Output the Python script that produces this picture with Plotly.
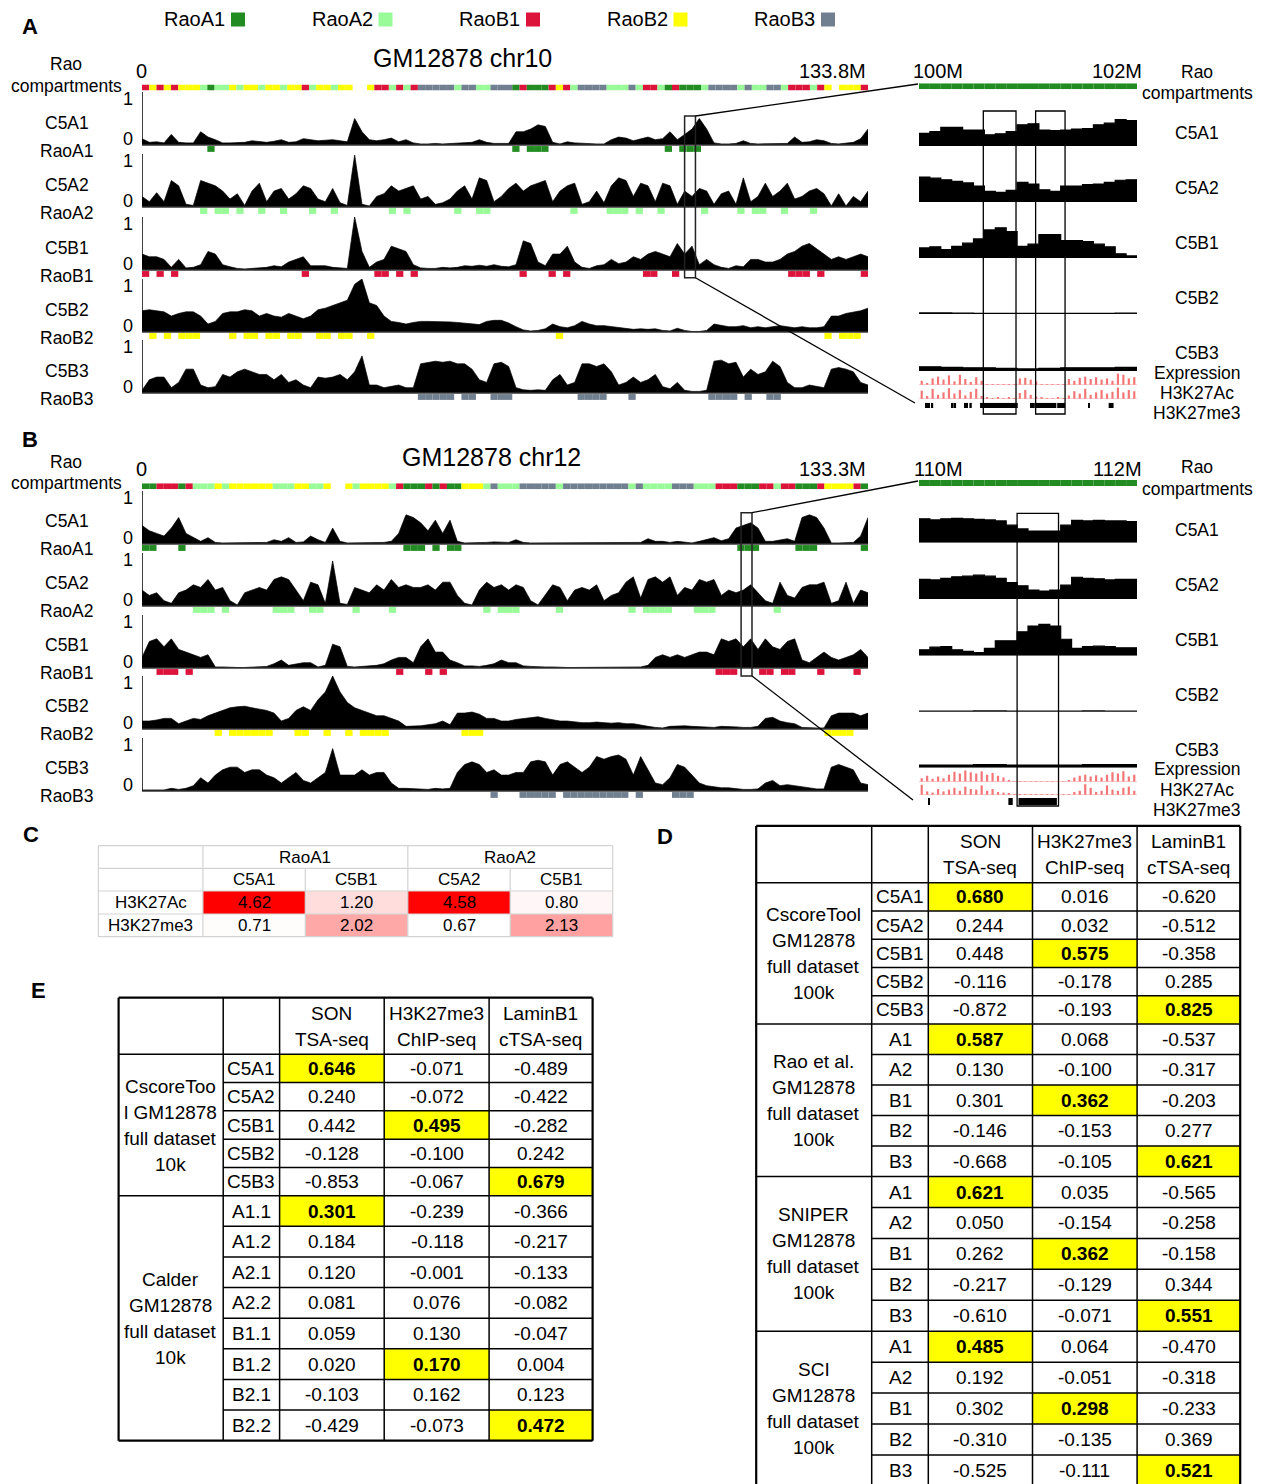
import numpy as np
import plotly.graph_objects as go

W, H = 1262, 1484
OFF = 8                      # page body margin that the browser adds around the figure
FW, FH = W - OFF, H - OFF    # figure size so that it fits the window exactly
FONT = "Liberation Sans, Arial, Helvetica, sans-serif"

# ======================= DATA =======================
comp_names = ["RaoA1", "RaoA2", "RaoB1", "RaoB2", "RaoB3"]
comp_codes = ["G", "L", "R", "Y", "S"]
comp_colors = ["#228B22", "#98FB98", "#DC143C", "#FFFF00", "#708090"]
track_names = ["C5A1", "C5A2", "C5B1", "C5B2", "C5B3"]
mark_names = ["Expression", "H3K27Ac", "H3K27me3"]

# ---- chr10 ----
chr10_title = "GM12878 chr10"
chr10_len = 133.8
chr10_end_label = "133.8M"
chr10_comp = ("RYRYRYYYLG" "LLYLYYLYYL" "YYRLYYLYY." ".YRRLRLRSS" "SSSLSSLLSS"
              "SGRGGGRYRL" "SSSSLLLSLR" "RLGRGGGLSS" "SSLSLLSSLR" "RRLRY.YYYR")
chr10_C5A1 = [0.12, 0.05, 0.06, 0.04, 0.2, 0.05, 0.04, 0.04, 0.25, 0.15,
              0.1, 0.04, 0.04, 0.04, 0.05, 0.08, 0.07, 0.05, 0.07, 0.1,
              0.05, 0.06, 0.12, 0.1, 0.08, 0.09, 0.1, 0.08, 0.06, 0.5,
              0.25, 0.1, 0.08, 0.1, 0.13, 0.06, 0.1, 0.04, 0.02, 0.02,
              0.03, 0.02, 0.03, 0.03, 0.04, 0.05, 0.1, 0.05, 0.03, 0.03,
              0.03, 0.25, 0.25, 0.3, 0.38, 0.35, 0.05, 0.02, 0.06, 0.04,
              0.03, 0.02, 0.02, 0.02, 0.1, 0.15, 0.13, 0.08, 0.12, 0.15,
              0.1, 0.12, 0.25, 0.1, 0.2, 0.3, 0.5, 0.3, 0.04, 0.02,
              0.02, 0.03, 0.08, 0.03, 0.02, 0.02, 0.02, 0.02, 0.03, 0.15,
              0.05, 0.06, 0.1, 0.08, 0.03, 0.02, 0.03, 0.05, 0.12, 0.3]
chr10_C5A2 = [0.2, 0.1, 0.27, 0.1, 0.5, 0.4, 0.05, 0.03, 0.5, 0.45,
              0.4, 0.3, 0.15, 0.25, 0.03, 0.3, 0.45, 0.1, 0.3, 0.35,
              0.15, 0.25, 0.4, 0.35, 0.15, 0.1, 0.35, 0.08, 0.03, 0.98,
              0.05, 0.02, 0.2, 0.25, 0.4, 0.3, 0.35, 0.4, 0.15, 0.2,
              0.05, 0.08, 0.15, 0.3, 0.4, 0.15, 0.55, 0.5, 0.1, 0.2,
              0.35, 0.45, 0.3, 0.4, 0.45, 0.5, 0.1, 0.3, 0.4, 0.45,
              0.05, 0.1, 0.3, 0.08, 0.4, 0.55, 0.5, 0.2, 0.45, 0.4,
              0.1, 0.45, 0.4, 0.05, 0.3, 0.2, 0.35, 0.3, 0.05, 0.25,
              0.3, 0.05, 0.55, 0.1, 0.2, 0.45, 0.2, 0.3, 0.45, 0.15,
              0.2, 0.3, 0.35, 0.25, 0.02, 0.25, 0.02, 0.2, 0.1, 0.3]
chr10_C5B1 = [0.3, 0.25, 0.25, 0.2, 0.05, 0.2, 0.04, 0.05, 0.1, 0.35,
              0.3, 0.1, 0.06, 0.03, 0.02, 0.03, 0.04, 0.05, 0.08, 0.06,
              0.15, 0.2, 0.25, 0.08, 0.08, 0.08, 0.05, 0.04, 0.03, 1.0,
              0.35, 0.05, 0.15, 0.2, 0.45, 0.4, 0.35, 0.1, 0.04, 0.03,
              0.03, 0.05, 0.04, 0.05, 0.08, 0.07, 0.09, 0.07, 0.1, 0.07,
              0.06, 0.1, 0.55, 0.5, 0.15, 0.08, 0.3, 0.3, 0.45, 0.15,
              0.05, 0.03, 0.08, 0.1, 0.2, 0.12, 0.15, 0.25, 0.2, 0.3,
              0.35, 0.3, 0.25, 0.5, 0.3, 0.45, 0.1, 0.2, 0.1, 0.05,
              0.03, 0.08, 0.06, 0.2, 0.2, 0.15, 0.15, 0.2, 0.3, 0.35,
              0.45, 0.5, 0.4, 0.3, 0.2, 0.25, 0.2, 0.25, 0.3, 0.25]
chr10_C5B2 = [0.4, 0.42, 0.4, 0.38, 0.3, 0.35, 0.38, 0.38, 0.3, 0.15,
              0.2, 0.35, 0.38, 0.38, 0.42, 0.4, 0.3, 0.35, 0.3, 0.28,
              0.35, 0.3, 0.25, 0.3, 0.42, 0.45, 0.5, 0.55, 0.6, 0.9,
              1.0, 0.55, 0.5, 0.3, 0.2, 0.18, 0.15, 0.18, 0.2, 0.2,
              0.2, 0.2, 0.19, 0.18, 0.17, 0.15, 0.14, 0.2, 0.22, 0.22,
              0.17, 0.1, 0.04, 0.02, 0.03, 0.06, 0.15, 0.1, 0.08, 0.12,
              0.2, 0.15, 0.12, 0.12, 0.1, 0.08, 0.06, 0.05, 0.06, 0.05,
              0.06, 0.03, 0.02, 0.07, 0.03, 0.01, 0.01, 0.03, 0.15, 0.12,
              0.1, 0.1, 0.12, 0.08, 0.1, 0.08, 0.1, 0.12, 0.1, 0.08,
              0.1, 0.08, 0.08, 0.1, 0.3, 0.3, 0.35, 0.38, 0.4, 0.45]
chr10_C5B3 = [0.05, 0.25, 0.3, 0.3, 0.1, 0.2, 0.45, 0.45, 0.15, 0.1,
              0.12, 0.35, 0.3, 0.4, 0.45, 0.4, 0.35, 0.35, 0.25, 0.35,
              0.2, 0.25, 0.15, 0.1, 0.3, 0.28, 0.3, 0.35, 0.25, 0.4,
              0.7, 0.15, 0.15, 0.1, 0.12, 0.15, 0.1, 0.1, 0.55, 0.58,
              0.6, 0.58, 0.6, 0.55, 0.55, 0.45, 0.25, 0.2, 0.55, 0.58,
              0.5, 0.1, 0.06, 0.05, 0.06, 0.05, 0.25, 0.35, 0.15, 0.2,
              0.55, 0.55, 0.5, 0.55, 0.4, 0.15, 0.2, 0.3, 0.2, 0.25,
              0.35, 0.12, 0.08, 0.2, 0.05, 0.03, 0.03, 0.05, 0.6, 0.62,
              0.55, 0.58, 0.3, 0.45, 0.35, 0.4, 0.6, 0.5, 0.2, 0.1,
              0.1, 0.15, 0.12, 0.1, 0.45, 0.48, 0.45, 0.4, 0.2, 0.15]

chr10_zoom = (100, 102)
chr10_zoom_labels = ("100M", "102M")
chr10_zoom_comp = "GGGGGGGGGGGGGGGGGGGG"
chr10_zoom_C5A1 = [0.24, 0.27, 0.35, 0.35, 0.30, 0.30, 0.21, 0.23, 0.27, 0.40,
                   0.42, 0.30, 0.29, 0.30, 0.32, 0.33, 0.40, 0.43, 0.50, 0.48]
chr10_zoom_C5A2 = [0.47, 0.45, 0.42, 0.39, 0.36, 0.30, 0.20, 0.18, 0.22, 0.37,
                   0.34, 0.23, 0.20, 0.30, 0.30, 0.33, 0.34, 0.37, 0.41, 0.42]
chr10_zoom_C5B1 = [0.19, 0.21, 0.16, 0.22, 0.28, 0.36, 0.53, 0.57, 0.50, 0.22,
                   0.26, 0.44, 0.44, 0.33, 0.33, 0.31, 0.26, 0.21, 0.08, 0.04]
chr10_zoom_C5B2 = [0.02, 0.02, 0.02, 0.015, 0.015, 0.01, 0.01, 0.01, 0.01, 0.01,
                   0.01, 0.01, 0.01, 0.01, 0.01, 0.01, 0.01, 0.01, 0.015, 0.015]
chr10_zoom_C5B3 = [0.08, 0.08, 0.07, 0.07, 0.06, 0.06, 0.06, 0.05, 0.05, 0.04,
                   0.04, 0.05, 0.05, 0.06, 0.06, 0.06, 0.06, 0.06, 0.07, 0.07]
chr10_zoom_expr = [0.35, 0.15, 0.55, 0.7, 0.45, 0.8, 0.3, 0.85, 0.5, 0.25, 0.65, 0.35,
                   0.04, 0.04, 0.05, 0.04, 0.04, 0.05,
                   0.55, 0.6, 0.45, 0.3,
                   0.04, 0.05, 0.04, 0.04, 0.05,
                   0.5, 0.35, 0.6, 0.7, 0.5, 0.65, 0.45, 0.55, 0.35, 0.95, 0.85, 0.55, 0.65]
chr10_zoom_h3k27ac = [0.7, 0.25, 0.85, 0.35, 0.55, 0.9, 0.45, 0.75, 0.3, 0.6, 0.85, 0.25,
                      0.1, 0.06, 0.1, 0.06, 0.1, 0.06,
                      0.5, 0.75, 0.35, 0.2,
                      0.1, 0.06, 0.06, 0.1, 0.06,
                      0.3, 0.65, 0.45, 0.85, 0.35, 0.55, 0.75, 0.45, 0.6, 0.95, 0.55, 0.75, 0.65]
chr10_zoom_h3k27me3 = [(100.055, 100.063), (100.072, 100.080), (100.090, 100.098), (100.110, 100.130),
                       (100.300, 100.318), (100.325, 100.340), (100.417, 100.427), (100.438, 100.448),
                       (100.462, 100.484), (100.560, 100.906), (101.020, 101.030), (101.040, 101.048),
                       (101.057, 101.260), (101.268, 101.340), (101.556, 101.560), (101.740, 101.785)]
chr10_zoom_boxes = [(100.59, 100.89), (101.07, 101.34)]

# ---- chr12 ----
chr12_title = "GM12878 chr12"
chr12_len = 133.3
chr12_end_label = "133.3M"
chr12_comp = ("GGRRRGRLLL" "YLYYYYYYLL" "LYYLLY..YL" "YYYYLRGGGR" "GRGGYYYLSL"
              "LLSSSSSLSS" "SSSSSSSLSL" "LLLSSSLLLR" "RRGGGRRLRR" "GGGRYYYYRG")
chr12_C5A1 = [0.35, 0.25, 0.2, 0.15, 0.3, 0.5, 0.2, 0.12, 0.05, 0.12,
              0.03, 0.02, 0.02, 0.02, 0.02, 0.02, 0.02, 0.03, 0.08, 0.05,
              0.12, 0.03, 0.04, 0.15, 0.08, 0.03, 0.3, 0.05, 0.02, 0.02,
              0.02, 0.02, 0.02, 0.03, 0.05, 0.2, 0.55, 0.5, 0.4, 0.25,
              0.45, 0.2, 0.45, 0.05, 0.02, 0.02, 0.02, 0.03, 0.04, 0.03,
              0.03, 0.08, 0.03, 0.02, 0.02, 0.02, 0.02, 0.02, 0.02, 0.02,
              0.02, 0.02, 0.02, 0.02, 0.02, 0.02, 0.02, 0.03, 0.03, 0.1,
              0.05, 0.05, 0.03, 0.05, 0.03, 0.02, 0.05, 0.08, 0.12, 0.06,
              0.1, 0.3, 0.35, 0.4, 0.3, 0.05, 0.05, 0.08, 0.1, 0.05,
              0.5, 0.55, 0.5, 0.3, 0.02, 0.02, 0.02, 0.03, 0.15, 0.5]
chr12_C5A2 = [0.3, 0.2, 0.25, 0.1, 0.05, 0.25, 0.3, 0.4, 0.35, 0.5,
              0.3, 0.35, 0.1, 0.02, 0.25, 0.3, 0.35, 0.3, 0.5, 0.55,
              0.5, 0.3, 0.1, 0.45, 0.4, 0.05, 0.85, 0.05, 0.03, 0.35,
              0.3, 0.25, 0.4, 0.3, 0.5, 0.35, 0.4, 0.35, 0.35, 0.4,
              0.3, 0.45, 0.45, 0.2, 0.05, 0.02, 0.3, 0.45, 0.35, 0.4,
              0.3, 0.4, 0.35, 0.1, 0.02, 0.2, 0.4, 0.35, 0.1, 0.3,
              0.35, 0.3, 0.4, 0.1, 0.2, 0.25, 0.45, 0.55, 0.15, 0.5,
              0.55, 0.45, 0.55, 0.2, 0.35, 0.3, 0.5, 0.45, 0.5, 0.2,
              0.3, 0.25, 0.3, 0.4, 0.25, 0.1, 0.05, 0.45, 0.2, 0.15,
              0.35, 0.4, 0.4, 0.45, 0.05, 0.1, 0.45, 0.05, 0.3, 0.25]
chr12_C5B1 = [0.2, 0.5, 0.55, 0.4, 0.55, 0.35, 0.3, 0.25, 0.2, 0.25,
              0.02, 0.02, 0.01, 0.01, 0.01, 0.02, 0.03, 0.03, 0.08, 0.15,
              0.05, 0.08, 0.1, 0.1, 0.02, 0.05, 0.45, 0.4, 0.03, 0.02,
              0.03, 0.04, 0.05, 0.08, 0.15, 0.2, 0.2, 0.1, 0.4, 0.55,
              0.3, 0.3, 0.15, 0.1, 0.04, 0.04, 0.03, 0.05, 0.08, 0.15,
              0.1, 0.1, 0.04, 0.03, 0.02, 0.02, 0.02, 0.01, 0.01, 0.01,
              0.01, 0.01, 0.01, 0.01, 0.01, 0.01, 0.01, 0.02, 0.02, 0.05,
              0.2, 0.25, 0.2, 0.25, 0.2, 0.25, 0.3, 0.3, 0.25, 0.55,
              0.5, 0.55, 0.4, 0.55, 0.35, 0.55, 0.4, 0.35, 0.5, 0.55,
              0.15, 0.1, 0.2, 0.3, 0.2, 0.15, 0.2, 0.25, 0.35, 0.2]
chr12_C5B2 = [0.15, 0.15, 0.17, 0.2, 0.2, 0.1, 0.15, 0.2, 0.18, 0.25,
              0.3, 0.35, 0.4, 0.42, 0.43, 0.4, 0.38, 0.35, 0.3, 0.15,
              0.2, 0.35, 0.42, 0.35, 0.55, 0.7, 1.0, 0.7, 0.5, 0.4,
              0.35, 0.3, 0.25, 0.25, 0.2, 0.15, 0.05, 0.05, 0.06, 0.08,
              0.1, 0.15, 0.08, 0.3, 0.3, 0.32, 0.28, 0.2, 0.2, 0.15,
              0.15, 0.18, 0.2, 0.22, 0.23, 0.2, 0.18, 0.15, 0.15, 0.13,
              0.12, 0.12, 0.13, 0.12, 0.11, 0.12, 0.1, 0.1, 0.07, 0.05,
              0.03, 0.02, 0.05, 0.06, 0.06, 0.05, 0.04, 0.04, 0.03, 0.05,
              0.05, 0.04, 0.03, 0.03, 0.05, 0.2, 0.22, 0.15, 0.12, 0.1,
              0.03, 0.02, 0.02, 0.02, 0.25, 0.3, 0.3, 0.3, 0.25, 0.3]
chr12_C5B3 = [0.02, 0.02, 0.03, 0.02, 0.05, 0.03, 0.05, 0.1, 0.25, 0.15,
              0.3, 0.4, 0.45, 0.45, 0.35, 0.4, 0.4, 0.3, 0.25, 0.15,
              0.25, 0.35, 0.2, 0.15, 0.25, 0.35, 0.8, 0.3, 0.3, 0.3,
              0.4, 0.3, 0.35, 0.35, 0.15, 0.05, 0.05, 0.04, 0.03, 0.03,
              0.05, 0.04, 0.05, 0.35, 0.5, 0.55, 0.5, 0.35, 0.4, 0.3,
              0.3, 0.35, 0.35, 0.55, 0.58, 0.55, 0.3, 0.5, 0.55, 0.45,
              0.35, 0.45, 0.65, 0.6, 0.65, 0.68, 0.6, 0.3, 0.65, 0.4,
              0.15, 0.12, 0.25, 0.5, 0.45, 0.3, 0.15, 0.1, 0.08, 0.06,
              0.06, 0.04, 0.03, 0.03, 0.04, 0.15, 0.2, 0.1, 0.12, 0.1,
              0.08, 0.05, 0.04, 0.04, 0.45, 0.5, 0.45, 0.4, 0.15, 0.12]

chr12_zoom = (110, 112)
chr12_zoom_labels = ("110M", "112M")
chr12_zoom_comp = "GGGGGGGGGGGGGGGGGGGG"
chr12_zoom_C5A1 = [0.45, 0.43, 0.45, 0.46, 0.45, 0.44, 0.43, 0.41, 0.33, 0.26,
                   0.22, 0.22, 0.22, 0.33, 0.42, 0.41, 0.42, 0.41, 0.41, 0.40]
chr12_zoom_C5A2 = [0.37, 0.36, 0.39, 0.42, 0.43, 0.45, 0.43, 0.39, 0.31, 0.25,
                   0.17, 0.15, 0.17, 0.26, 0.41, 0.39, 0.38, 0.36, 0.37, 0.37]
chr12_zoom_C5B1 = [0.11, 0.16, 0.17, 0.11, 0.08, 0.06, 0.14, 0.28, 0.28, 0.45,
                   0.56, 0.59, 0.56, 0.31, 0.14, 0.17, 0.18, 0.17, 0.15, 0.15]
chr12_zoom_C5B2 = [0.01, 0.01, 0.01, 0.01, 0.01, 0.015, 0.015, 0.015, 0.01, 0.01,
                   0.01, 0.01, 0.01, 0.01, 0.01, 0.015, 0.015, 0.01, 0.01, 0.01]
chr12_zoom_C5B3 = [0.05, 0.05, 0.05, 0.05, 0.05, 0.06, 0.06, 0.06, 0.05, 0.05,
                   0.05, 0.05, 0.05, 0.05, 0.05, 0.06, 0.06, 0.06, 0.06, 0.06]
chr12_zoom_expr = [0.3, 0.5, 0.25, 0.45, 0.3, 0.6, 0.85, 0.7, 0.95, 0.8, 0.7, 0.9, 0.6, 0.75, 0.5, 0.35, 0.15,
                   0.04, 0.04, 0.05, 0.04, 0.04, 0.05, 0.04, 0.04, 0.05, 0.04, 0.08,
                   0.35, 0.5, 0.6, 0.45, 0.55, 0.35, 0.6, 0.8, 0.7, 0.9, 0.45, 0.6]
chr12_zoom_h3k27ac = [0.85, 0.3, 0.2, 0.5, 0.3, 0.45, 0.6, 0.35, 0.7, 0.5, 0.45, 0.8, 0.35, 0.5, 0.25, 0.2, 0.12,
                      0.05, 0.05, 0.05, 0.06, 0.05, 0.05, 0.05, 0.06, 0.05, 0.05, 0.06,
                      0.25, 0.35, 0.9, 0.6, 0.25, 0.35, 0.8, 0.45, 0.35, 0.6, 0.7, 0.35]
chr12_zoom_h3k27me3 = [(110.086, 110.092), (110.820, 110.860), (110.913, 111.265)]
chr12_zoom_boxes = [(110.90, 111.28)]

# ---- table C ----
c_groups = ["RaoA1", "RaoA2"]
c_cols = ["C5A1", "C5B1", "C5A2", "C5B1"]
c_rows = ["H3K27Ac", "H3K27me3"]
c_vals = [[4.62, 1.20, 4.58, 0.80],
          [0.71, 2.02, 0.67, 2.13]]

# ---- table D ----
d_headers = [["SON", "TSA-seq"], ["H3K27me3", "ChIP-seq"], ["LaminB1", "cTSA-seq"]]
d_group_labels = [["CscoreTool", "GM12878", "full dataset", "100k"],
                  ["Rao et al.", "GM12878", "full dataset", "100k"],
                  ["SNIPER", "GM12878", "full dataset", "100k"],
                  ["SCI", "GM12878", "full dataset", "100k"]]
d_row_labels = [["C5A1", "C5A2", "C5B1", "C5B2", "C5B3"],
                ["A1", "A2", "B1", "B2", "B3"],
                ["A1", "A2", "B1", "B2", "B3"],
                ["A1", "A2", "B1", "B2", "B3"]]
d_cscore = [[0.680, 0.016, -0.620], [0.244, 0.032, -0.512], [0.448, 0.575, -0.358],
            [-0.116, -0.178, 0.285], [-0.872, -0.193, 0.825]]
d_rao = [[0.587, 0.068, -0.537], [0.130, -0.100, -0.317], [0.301, 0.362, -0.203],
         [-0.146, -0.153, 0.277], [-0.668, -0.105, 0.621]]
d_sniper = [[0.621, 0.035, -0.565], [0.050, -0.154, -0.258], [0.262, 0.362, -0.158],
            [-0.217, -0.129, 0.344], [-0.610, -0.071, 0.551]]
d_sci = [[0.485, 0.064, -0.470], [0.192, -0.051, -0.318], [0.302, 0.298, -0.233],
         [-0.310, -0.135, 0.369], [-0.525, -0.111, 0.521]]

# ---- table E ----
e_headers = d_headers
e_group_labels = [["CscoreToo", "l GM12878", "full dataset", "10k"],
                  ["Calder", "GM12878", "full dataset", "10k"]]
e_row_labels = [["C5A1", "C5A2", "C5B1", "C5B2", "C5B3"],
                ["A1.1", "A1.2", "A2.1", "A2.2", "B1.1", "B1.2", "B2.1", "B2.2"]]
e_cscore = [[0.646, -0.071, -0.489], [0.240, -0.072, -0.422], [0.442, 0.495, -0.282],
            [-0.128, -0.100, 0.242], [-0.853, -0.067, 0.679]]
e_calder = [[0.301, -0.239, -0.366], [0.184, -0.118, -0.217], [0.120, -0.001, -0.133],
            [0.081, 0.076, -0.082], [0.059, 0.130, -0.047], [0.020, 0.170, 0.004],
            [-0.103, 0.162, 0.123], [-0.429, -0.073, 0.472]]

# ======================= HELPERS =======================
fig = go.Figure()
axes = {}
shapes = []
annots = []
_k = [0]


def PX(p):
    return (p - OFF) / FW


def PY(p):
    return 1 - (p - OFF) / FH


def add_axes(x0, x1, ytop, ybot, xr, yr):
    _k[0] += 1
    s = "" if _k[0] == 1 else str(_k[0])
    axes["xaxis" + s] = dict(domain=[PX(x0), PX(x1)], range=list(xr), visible=False,
                             fixedrange=True, anchor="y" + s, showgrid=False, zeroline=False)
    axes["yaxis" + s] = dict(domain=[PY(ybot), PY(ytop)], range=list(yr), visible=False,
                             fixedrange=True, anchor="x" + s, showgrid=False, zeroline=False)
    return "x" + s, "y" + s


def text(x, y, s, size=17.5, xanchor="center", bold=False):
    annots.append(dict(x=PX(x), y=PY(y), xref="paper", yref="paper",
                       text=("<b>%s</b>" % s) if bold else s, showarrow=False,
                       xanchor=xanchor, yanchor="middle", borderpad=0,
                       font=dict(size=size, family=FONT, color="black")))


def line(x0, y0, x1, y1, w=1.5, color="black"):
    shapes.append(dict(type="line", xref="paper", yref="paper", x0=PX(x0), y0=PY(y0),
                       x1=PX(x1), y1=PY(y1), line=dict(color=color, width=w)))


def rect_fill(x0, y0, x1, y1, color):
    shapes.append(dict(type="rect", xref="paper", yref="paper", x0=PX(x0), x1=PX(x1),
                       y0=PY(y1), y1=PY(y0), fillcolor=color, line=dict(width=0)))


def comp_bar(xa, ya, comp, start, span):
    bw = span / len(comp)
    idx = [i for i, c in enumerate(comp) if c in comp_codes]
    fig.add_trace(go.Bar(x=[start + (i + 0.5) * bw for i in idx], y=[1] * len(idx), width=bw,
                         marker=dict(color=[comp_colors[comp_codes.index(comp[i])] for i in idx],
                                     line=dict(width=0)),
                         xaxis=xa, yaxis=ya, showlegend=False, hoverinfo="skip"))


# ======================= LAYOUT CONSTANTS =======================
LX0, LX1 = 142, 868
RX0, RX1 = 919, 1137
U = 53  # pixels per track unit


def left_panel(chrlen, comp, tracks, title, title_xy, end_label, cbar_y, bases,
               cl_dy, rl_dy, rao_y, zoom, zbox_y, anchors):
    text(66, rao_y[0], "Rao")
    text(66, rao_y[1], "compartments")
    text(title_xy[0], title_xy[1], title, size=25)
    text(141, cbar_y[0] - 14, "0", size=20)
    text(867, cbar_y[0] - 14, end_label, size=20, xanchor="right")
    xa, ya = add_axes(LX0, LX1, cbar_y[0], cbar_y[1], (0, chrlen), (0, 1))
    comp_bar(xa, ya, comp, 0, chrlen)
    bw = chrlen / len(comp)
    first_xa = None
    for j, name in enumerate(track_names):
        base = bases[j]
        vals = tracks[j]
        xa, ya = add_axes(LX0, LX1, base - U, base + 0.15 * U, (0, chrlen), (-0.15, 1.0))
        if first_xa is None:
            first_xa = xa
        xs = np.linspace(0, chrlen, len(vals))
        fig.add_trace(go.Scatter(x=xs, y=vals, mode="lines", fill="tozeroy", fillcolor="black",
                                 line=dict(color="black", width=0.7), xaxis=xa, yaxis=ya,
                                 showlegend=False, hoverinfo="skip"))
        idx = [i for i, c in enumerate(comp) if c == comp_codes[j]]
        fig.add_trace(go.Bar(x=[(i + 0.5) * bw for i in idx], y=[0.11] * len(idx), base=-0.13,
                             width=bw, marker=dict(color=comp_colors[j], line=dict(width=0)),
                             xaxis=xa, yaxis=ya, showlegend=False, hoverinfo="skip"))
        shapes.append(dict(type="line", xref=xa, yref=ya, x0=0, x1=0, y0=0, y1=1,
                           line=dict(color="black", width=1.5)))
        shapes.append(dict(type="line", xref=xa, yref=ya, x0=0, x1=chrlen, y0=0, y1=0,
                           line=dict(color="#333333", width=1.5)))
        text(67, base + cl_dy, name)
        text(67, base + rl_dy, comp_names[j])
        text(134, base - 46, "1", size=18, xanchor="right")
        text(134, base - 6, "0", size=18, xanchor="right")
    shapes.append(dict(type="rect", xref=first_xa, yref="paper", x0=zoom[0], x1=zoom[1],
                       y0=PY(zbox_y[1]), y1=PY(zbox_y[0]), line=dict(color="#222222", width=1.5)))
    xr = LX0 + zoom[1] / chrlen * (LX1 - LX0)
    line(xr, zbox_y[0], anchors[0][0], anchors[0][1], 1.3)
    line(xr, zbox_y[1], anchors[1][0], anchors[1][1], 1.3)


def right_panel(zoom, zlabels, zcomp, ztracks, expr, ac, me3, boxes, lab_y, rao_y, cbar_y,
                bases, t_lab_y, expr_y, ac_y, me3_y, mark_lab_y, box_y):
    text(938, lab_y, zlabels[0], size=20)
    text(1117, lab_y, zlabels[1], size=20)
    text(1197, rao_y[0], "Rao")
    text(1197, rao_y[1], "compartments")
    span = zoom[1] - zoom[0]
    xa, ya = add_axes(RX0, RX1, cbar_y[0], cbar_y[1], zoom, (0, 1))
    comp_bar(xa, ya, zcomp, zoom[0], span)
    for j, name in enumerate(track_names):
        vals = list(ztracks[j])
        base = bases[j]
        xa, ya = add_axes(RX0, RX1, base - U, base, zoom, (0, 1))
        edges = np.linspace(zoom[0], zoom[1], len(vals) + 1)
        fig.add_trace(go.Scatter(x=edges, y=vals + [vals[-1]], mode="lines", line_shape="hv",
                                 fill="tozeroy", fillcolor="black",
                                 line=dict(color="black", width=1.2), xaxis=xa, yaxis=ya,
                                 showlegend=False, hoverinfo="skip"))
        text(1197, t_lab_y[j], name)
    for vals, yy in [(expr, expr_y), (ac, ac_y)]:
        xa, ya = add_axes(RX0, RX1, yy[0], yy[1], zoom, (0, 1.0))
        bwm = span / len(vals)
        fig.add_trace(go.Bar(x=zoom[0] + (np.arange(len(vals)) + 0.5) * bwm, y=vals,
                             width=bwm * 0.4, marker=dict(color="#F47575", line=dict(width=0)),
                             xaxis=xa, yaxis=ya, showlegend=False, hoverinfo="skip"))
        shapes.append(dict(type="line", xref=xa, yref=ya, x0=zoom[0], x1=zoom[1], y0=0, y1=0,
                           line=dict(color="#F7A3A3", width=1)))
    xa, ya = add_axes(RX0, RX1, me3_y[0], me3_y[1], zoom, (-0.5, 0.5))
    fig.add_trace(go.Bar(y=[0] * len(me3), x=[e - s for s, e in me3], base=[s for s, e in me3],
                         orientation="h", width=1, marker=dict(color="black", line=dict(width=0)),
                         xaxis=xa, yaxis=ya, showlegend=False, hoverinfo="skip"))
    for k, nm in enumerate(mark_names):
        text(1197, mark_lab_y[k], nm)
    for s, e in boxes:
        shapes.append(dict(type="rect", xref=xa, yref="paper", x0=s, x1=e,
                           y0=PY(box_y[1]), y1=PY(box_y[0]), line=dict(color="black", width=1.3)))


# ======================= PANELS A / B =======================
for k, (nm, col) in enumerate(zip(comp_names, comp_colors)):
    xr = 226 + k * 147.5
    text(xr, 19, nm, size=20, xanchor="right")
    rect_fill(xr + 5, 12.5, xr + 19, 26.5, col)

text(30, 27, "A", size=22, bold=True)
text(30, 439, "B", size=22, bold=True)
text(31, 834, "C", size=22, bold=True)
text(665, 836, "D", size=22, bold=True)
text(39, 990, "E", size=22, bold=True)

left_panel(chr10_len, chr10_comp, [chr10_C5A1, chr10_C5A2, chr10_C5B1, chr10_C5B2, chr10_C5B3],
           chr10_title, (462, 58), chr10_end_label, (84.5, 90.5), [145, 207, 270, 332, 393],
           -22, 6, (64, 86), chr10_zoom, (116, 277.7), ((918, 84), (915, 403)))
right_panel(chr10_zoom, chr10_zoom_labels, chr10_zoom_comp,
            [chr10_zoom_C5A1, chr10_zoom_C5A2, chr10_zoom_C5B1, chr10_zoom_C5B2, chr10_zoom_C5B3],
            chr10_zoom_expr, chr10_zoom_h3k27ac, chr10_zoom_h3k27me3, chr10_zoom_boxes,
            70.7, (71.7, 93), (83.3, 89.3), [146, 202, 258, 314, 371],
            [133, 188, 243, 298, 353], (373, 385), (387, 399), (402.7, 408),
            [372.7, 392.7, 413], (111, 414))

left_panel(chr12_len, chr12_comp, [chr12_C5A1, chr12_C5A2, chr12_C5B1, chr12_C5B2, chr12_C5B3],
           chr12_title, (491, 457), chr12_end_label, (483.3, 489.3), [544, 606, 668, 729, 791],
           -23, 5, (461.7, 483), chr12_zoom, (512.7, 676), ((918, 481), (913, 800)))
right_panel(chr12_zoom, chr12_zoom_labels, chr12_zoom_comp,
            [chr12_zoom_C5A1, chr12_zoom_C5A2, chr12_zoom_C5B1, chr12_zoom_C5B2, chr12_zoom_C5B3],
            chr12_zoom_expr, chr12_zoom_h3k27ac, chr12_zoom_h3k27me3, chr12_zoom_boxes,
            469, (466.7, 489.3), (480, 486), [542.7, 599, 655.7, 711.7, 767.7],
            [530, 585, 640, 695, 750], (770, 781.7), (783, 795), (798, 805),
            [769, 790, 810], (513.3, 806))

# ======================= TABLE C =======================
cx = [98.4, 202.9, 305.3, 407.8, 510.2, 612.7]
cy = [845.7, 868.3, 891, 914, 936.7]
allv = [v for row in c_vals for v in row]
vmin, vmax = min(allv), max(allv)
for r, row in enumerate(c_vals):
    for c, v in enumerate(row):
        t = (v - vmin) / (vmax - vmin)
        g = int(round(255 * (1 - t)))
        rect_fill(cx[1 + c], cy[2 + r], cx[2 + c], cy[3 + r], "rgb(255,%d,%d)" % (g, g))
GRAY = "#D3D3D3"
for y in cy:
    line(cx[0], y, cx[-1], y, 1.2, GRAY)
for i, x in enumerate(cx):
    y0 = cy[1] if i in (2, 4) else cy[0]
    line(x, y0, x, cy[-1], 1.2, GRAY)
for g, nm in enumerate(c_groups):
    text((cx[1 + 2 * g] + cx[3 + 2 * g]) / 2, (cy[0] + cy[1]) / 2, nm, 17)
for c, nm in enumerate(c_cols):
    text((cx[1 + c] + cx[2 + c]) / 2, (cy[1] + cy[2]) / 2, nm, 17)
for r, nm in enumerate(c_rows):
    text((cx[0] + cx[1]) / 2, (cy[2 + r] + cy[3 + r]) / 2, nm, 17)
    for c, v in enumerate(c_vals[r]):
        text((cx[1 + c] + cx[2 + c]) / 2, (cy[2 + r] + cy[3 + r]) / 2, "%.2f" % v, 17)


# ======================= TABLES D / E =======================
def corr_table(xs, ytop, yhead, gbottoms, headers, glabels, rlabels, gvals, fs=19, lw=1.5, outer=2.2):
    spans = []
    y0 = yhead
    for g, gb in enumerate(gbottoms):
        n = len(rlabels[g])
        rh = (gb - y0) / n
        spans.append((y0, gb, rh, n))
        vals = gvals[g]
        for c in range(3):
            mx = max(v[c] for v in vals)
            for r in range(n):
                if vals[r][c] == mx:
                    a = y0 + r * rh
                    rect_fill(xs[2 + c], a, xs[3 + c], a + rh, "#FFFF00")
        y0 = gb
    ybot = gbottoms[-1]
    line(xs[0], ytop, xs[-1], ytop, outer)
    line(xs[0], yhead, xs[-1], yhead, lw)
    for (a, b, rh, n) in spans:
        for r in range(1, n):
            line(xs[1], a + r * rh, xs[-1], a + r * rh, lw)
        line(xs[0], b, xs[-1], b, outer if b == ybot else lw)
    for i, x in enumerate(xs):
        line(x, ytop, x, ybot, outer if i in (0, len(xs) - 1) else lw)
    hy = (ytop + yhead) / 2
    for c, (h1, h2) in enumerate(headers):
        xc = (xs[2 + c] + xs[3 + c]) / 2
        text(xc, hy - 13, h1, fs)
        text(xc, hy + 13, h2, fs)
    for g, (a, b, rh, n) in enumerate(spans):
        gc = (a + b) / 2
        L = glabels[g]
        for k, s in enumerate(L):
            text((xs[0] + xs[1]) / 2, gc + (k - (len(L) - 1) / 2) * 26, s, fs)
        vals = gvals[g]
        for r in range(n):
            yc = a + (r + 0.5) * rh
            text((xs[1] + xs[2]) / 2, yc, rlabels[g][r], fs)
            for c in range(3):
                mx = max(v[c] for v in vals)
                text((xs[2 + c] + xs[3 + c]) / 2, yc, "%.3f" % vals[r][c], fs,
                     bold=(vals[r][c] == mx))


corr_table([756.2, 871.7, 928.3, 1032.5, 1137.1, 1240.2], 825.9, 882.7,
           [1024.1, 1176.6, 1331.2, 1486], d_headers, d_group_labels, d_row_labels,
           [d_cscore, d_rao, d_sniper, d_sci])
corr_table([118.6, 223.2, 279.6, 384.2, 489.1, 592.6], 997.7, 1054.3,
           [1195.7, 1440.7], e_headers, e_group_labels, e_row_labels,
           [e_cscore, e_calder])

fig.update_layout(width=FW, height=FH, autosize=False, margin=dict(l=0, r=0, t=0, b=0),
                  paper_bgcolor="white", plot_bgcolor="rgba(0,0,0,0)", showlegend=False,
                  barmode="overlay", hovermode=False, shapes=shapes, annotations=annots,
                  font=dict(family=FONT), **axes)
fig.write_html("out.html", config={"displayModeBar": False})
